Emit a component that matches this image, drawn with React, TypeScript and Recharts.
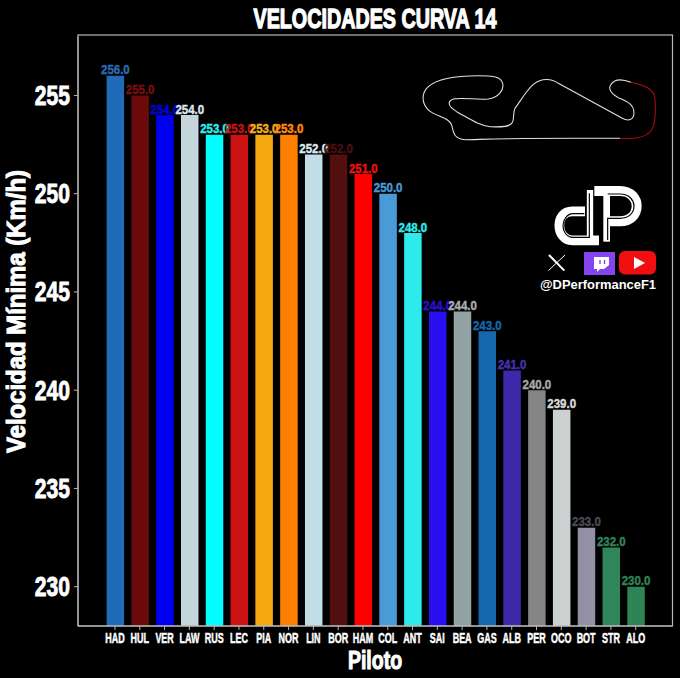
import { BarChart, Bar, Cell, XAxis, YAxis, LabelList } from 'recharts'

const pilots = ['HAD','HUL','VER','LAW','RUS','LEC','PIA','NOR','LIN','BOR','HAM','COL','ANT','SAI','BEA','GAS','ALB','PER','OCO','BOT','STR','ALO']
const speeds = [256,255,254,254,253,253,253,253,252,252,251,250,248,244,244,243,241,240,239,233,232,230]
const barColors = ['#1f6bb8','#6b0a0a','#0000f0','#c5d5dc','#00ffff','#cc1414','#f5a80f','#ff8000','#c0dde8','#521010','#ff0000','#4a9ad8','#2eebeb','#2a10f0','#93a3a3','#1668ae','#4028ab','#858585','#ccd0d0','#9490a4','#31855a','#2f8455']
const labelColors = ['#2a6cb5','#7a0f0f','#0000e0','#dde6ea','#2eeeee','#cc1414','#f5b01a','#ff8a10','#dcebf0','#4a1010','#f01010','#4a9ad8','#2eebeb','#2a10d0','#a5adad','#1668ae','#4a30b0','#a8a8a8','#d8dada','#4a4a55','#31855a','#2f8455']
const yTicks = [230,235,240,245,250,255]

const data = pilots.map((p, i) => ({ piloto: p, velocidad: speeds[i] }))
const FONT = '"Liberation Sans", sans-serif'

// no Impact on the box, so squeeze bold Liberation sideways instead
function Squeezed({ x, y, sx, size, fill, weight = 0.4, anchor = 'middle', children }: any) {
  return (
    <text transform={`translate(${x} ${y}) scale(${sx} 1)`} textAnchor={anchor} fontFamily={FONT} fontWeight="bold" fontSize={size} fill={fill} stroke={fill} strokeWidth={weight}>
      {children}
    </text>
  )
}

function ValueLabel(props: any) {
  const { x, y, width, value, index } = props
  return <Squeezed x={x + width / 2} y={y - 1.5} sx={0.85} size={13.5} fill={labelColors[index]} weight={0.45}>{Number(value).toFixed(1)}</Squeezed>
}

function XTick({ x, payload }: any) {
  return <Squeezed x={x} y={643} sx={0.64} size={14} fill="#fff" weight={0.5}>{payload.value}</Squeezed>
}

function YTick({ y, payload }: any) {
  return <Squeezed x={70} y={y + 9.5} sx={0.78} size={27} fill="#fff" anchor="end" weight={0.9}>{payload.value}</Squeezed>
}

// title, axis names, frame, circuit map and logo block sit on top of the chart
function Overlay() {
  return (
    <svg width={680} height={678} style={{ position: 'absolute', left: 0, top: 0, pointerEvents: 'none' }}>
      <rect x={78} y={35} width={594.5} height={591} fill="none" stroke="#b8b8b8" strokeWidth={1.2} />
      <text x={375} y={28} textAnchor="middle" fontFamily={FONT} fontWeight="bold" fontSize={27} fill="#fff" stroke="#fff" strokeWidth={1.3} textLength={243} lengthAdjust="spacingAndGlyphs">VELOCIDADES CURVA 14</text>
      <Squeezed x={375} y={669} sx={0.75} size={26} fill="#fff" weight={1.1}>Piloto</Squeezed>
      <text transform="translate(25 311.5) rotate(-90)" textAnchor="middle" fontFamily={FONT} fontWeight="bold" fontSize={25} fill="#fff" stroke="#fff" strokeWidth={1.1} textLength={283} lengthAdjust="spacingAndGlyphs">Velocidad Mínima (Km/h)</text>

      <g transform="translate(415 65) scale(0.3333)" fill="none" strokeWidth={3.2}>
        <path stroke="#e0e0e0" d="M648 52 C625 43 600 40 588 58 C578 72 590 88 610 98 C635 108 658 118 657 145 C656 165 640 170 622 160 L430 55 C410 40 380 38 355 58 C335 75 315 110 300 130 C292 145 300 165 290 175 C280 188 250 186 225 185 C190 180 170 165 125 140 C100 125 95 110 115 102 C135 97 190 105 220 102 C250 98 268 75 263 55 C258 35 235 32 190 32 C130 32 70 38 40 65 C18 85 20 115 40 135 C60 155 100 155 110 180 C115 200 115 222 150 224 C200 224 250 218 615 220" />
        <path stroke="#a80f0f" d="M615 220 C650 222 690 222 710 195 C722 175 722 130 720 100 C715 70 690 62 648 52" />
      </g>

      <g transform="translate(535 180) scale(0.3333)" fill="none">
        <path stroke="#fff" strokeWidth={29} d="M150 94 H112 C85 94 73 115 73 137 C73 160 88 181 112 181 H192" />
        <path stroke="#fff" strokeWidth={19} d="M165 30 V190" />
        <path stroke="#fff" strokeWidth={30} d="M178 33 H255 C290 33 305 58 305 78 C305 105 285 124 255 124 H225" />
        <path stroke="#fff" strokeWidth={20} d="M215 40 V185" />
        <path stroke="#000" strokeWidth={3.5} d="M148 101 H114 C96 101 84 120 84 137 C84 156 96 172 114 172 H163 V40" />
        <path stroke="#000" strokeWidth={3.5} d="M218 42 H255 C284 42 297 62 297 78 C297 100 281 115 255 115 H218 V180" />
        <path stroke="#fff" strokeWidth={6} d="M42 225 L88 272" />
        <path stroke="#fff" strokeWidth={3} d="M90 225 L40 272" />
      </g>
      <rect x={584} y={252} width={31} height={23} fill="#8445ef" />
      <path d="M594 257 H609 V265 L604 269 H600 L597 272 V269 H594 Z" fill="#fff" />
      <path d="M600 260 V264 M604.5 260 V264" stroke="#8445ef" strokeWidth={1.4} />
      <rect x={619} y={251} width={37} height={23.5} rx={6} fill="#f00e0e" />
      <path d="M634 257 L645 263 L634 269 Z" fill="#fff" />
      <text x={540} y={289} fontFamily={FONT} fontWeight="bold" fontSize={12} fill="#fff" textLength={116} lengthAdjust="spacingAndGlyphs">@DPerformanceF1</text>
    </svg>
  )
}

export default function App() {
  return (
    <div style={{ position: 'absolute', left: 0, top: 0, width: 680, height: 678, background: '#000', overflow: 'hidden' }}>
      <style>{'body{margin:0;background:#000}'}</style>
      <BarChart width={680} height={678} data={data} margin={{ top: 36.5, right: 7.5, bottom: 0, left: 0 }} barCategoryGap={0}>
        <XAxis dataKey="piloto" height={52} interval={0} padding={{ left: 24.6, right: 24.4 }} stroke="#b8b8b8" tickSize={4} tick={XTick} />
        <YAxis width={78} domain={[228, 258]} ticks={yTicks} allowDataOverflow stroke="#b8b8b8" tickSize={4} tick={YTick} />
        <Bar dataKey="velocidad" barSize={17.5} isAnimationActive={false}>
          {data.map((d, i) => <Cell key={d.piloto} fill={barColors[i]} />)}
          <LabelList dataKey="velocidad" content={ValueLabel} />
        </Bar>
      </BarChart>
      <Overlay />
    </div>
  )
}
